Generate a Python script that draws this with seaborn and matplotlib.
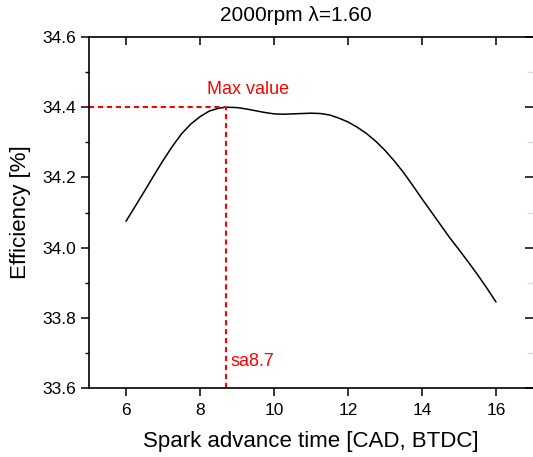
import numpy as np
import pandas as pd
import matplotlib
matplotlib.use("Agg")
import matplotlib.pyplot as plt
import seaborn as sns
from matplotlib.ticker import MultipleLocator

# -----------------------------
# DATA
# -----------------------------
spark_advance = [6.00, 6.25, 6.50, 6.75, 7.00, 7.25, 7.50, 7.75, 8.00, 8.25,
                 8.50, 8.70, 9.00, 9.25, 9.50, 9.75, 10.00, 10.25, 10.50, 10.75,
                 11.00, 11.25, 11.50, 11.75, 12.00, 12.25, 12.50, 12.75, 13.00,
                 13.25, 13.50, 13.75, 14.00, 14.25, 14.50, 14.75, 15.00, 15.25,
                 15.50, 15.75, 16.00]
efficiency = [34.075, 34.118, 34.161, 34.205, 34.248, 34.288, 34.324, 34.352,
              34.373, 34.389, 34.397, 34.400, 34.399, 34.395, 34.390, 34.385,
              34.381, 34.380, 34.381, 34.382, 34.383, 34.382, 34.378, 34.369,
              34.358, 34.343, 34.325, 34.303, 34.277, 34.247, 34.214, 34.177,
              34.139, 34.102, 34.065, 34.028, 33.994, 33.959, 33.923, 33.885,
              33.845]

max_x = 8.7
max_y = 34.40
title = "2000rpm \u03bb=1.60"

df = pd.DataFrame({"sa": spark_advance, "eff": efficiency})

sns.set_style("ticks")
plt.rcParams["font.family"] = ["Liberation Sans", "DejaVu Sans"]
plt.rcParams["text.color"] = "black"
plt.rcParams["axes.labelcolor"] = "black"
plt.rcParams["xtick.color"] = "black"
plt.rcParams["ytick.color"] = "black"

fig = plt.figure(figsize=(5.33, 4.57), dpi=100)
ax = fig.add_axes([0.167, 0.151, 0.833, 0.768])

sns.lineplot(data=df, x="sa", y="eff", color="black", linewidth=1.1, ax=ax)

# max value markers
red_dash = (0, (2.5, 1.8))
ax.plot([5, max_x], [max_y, max_y], color="red", linestyle=red_dash, linewidth=1.5)
ax.plot([max_x, max_x], [33.6, max_y], color="red", linestyle=red_dash, linewidth=1.5)
ax.text(9.3, 34.45, "Max value", color="red", fontsize=13, ha="center", va="center")
ax.text(max_x + 0.12, 33.675, "sa%.1f" % max_x, color="red", fontsize=13,
        ha="left", va="center")

ax.set_xlim(5, 17)
ax.set_ylim(33.6, 34.6)
ax.yaxis.set_major_locator(MultipleLocator(0.2))
ax.yaxis.set_minor_locator(MultipleLocator(0.1))
ax.set_xticks([6, 8, 10, 12, 14, 16])

ax.set_xlabel("Spark advance time [CAD, BTDC]", fontsize=16, labelpad=10)
ax.set_ylabel("Efficiency [%]", fontsize=16, labelpad=8)
fig.text(0.555, 0.965, title, fontsize=15, ha="center", va="center")

for side in ["left", "bottom", "top"]:
    ax.spines[side].set_visible(True)
    ax.spines[side].set_linewidth(1.2)
    ax.spines[side].set_color("black")
ax.spines["right"].set_visible(False)

ax.tick_params(axis="both", which="major", labelsize=12.5, width=1.1)
ax.tick_params(axis="y", which="major", left=True, right=True, length=6, direction="out")
ax.tick_params(axis="y", which="minor", left=True, right=True, length=3, width=1.0,
               direction="out")
ax.tick_params(axis="x", which="major", bottom=True, top=True, length=5.5,
               direction="out", pad=5)
ax.tick_params(axis="x", which="minor", bottom=False, top=False)

fig.canvas.draw()

# top/right ticks point inward, as in the original
for t in ax.xaxis.get_major_ticks():
    t.tick2line.set_marker(3)
    t.tick2line.set_markersize(6)
for t in ax.yaxis.get_major_ticks():
    t.tick2line.set_marker(0)
    t.tick2line.set_markersize(6)
for t in ax.yaxis.get_minor_ticks():
    t.tick2line.set_marker(0)
    t.tick2line.set_markersize(4)
    t.tick2line.set_markeredgecolor("#dddddd")
    t.tick2line.set_color("#dddddd")

ax.grid(False)
fig.savefig("out.png", dpi=100)
